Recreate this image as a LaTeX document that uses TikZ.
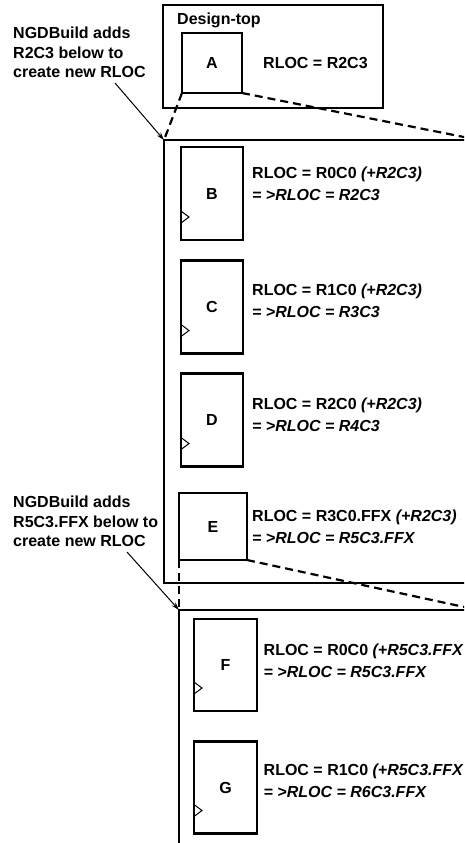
\documentclass[tikz,border=0pt]{standalone}
\usepackage{fontspec}
\setmainfont{Liberation Sans}
\usetikzlibrary{arrows.meta, calc}
\newcommand{\lblfont}{\fontsize{16}{21.5}\selectfont}
\newcommand{\notefont}{\fontsize{16}{19.5}\selectfont}
% clock mark on the left edge of a block
\newcommand{\clk}[1]{\draw[line width=1pt] ($(#1.south west)+(0,-29)$) -- ++(8,6) -- ++(-8,6);}

\begin{document}
\begin{tikzpicture}[x=1pt, y=-1pt,
        frame/.style={rectangle, draw, line width=2.2pt, outer sep=0pt, inner sep=0pt, anchor=north west},
        blk/.style={rectangle, draw, line width=2.2pt, outer sep=0pt, inner sep=0pt, minimum width=62pt, minimum height=93pt, font=\bfseries\lblfont},
        lbl/.style={anchor=north west, align=left, inner sep=0pt, font=\bfseries\lblfont},
        note/.style={anchor=north west, align=left, inner sep=0pt, font=\bfseries\notefont},
        link/.style={line width=2.2pt, dash pattern=on 8pt off 5pt},
        pointer/.style={line width=1pt, -{Stealth[length=8pt, width=5pt]}}]

        \clip (0,0) rectangle (464,843);

        % Design-top
        \node[frame, minimum width=220pt, minimum height=103pt] (dtop) at (163,5) {};
        \node[anchor=base west, inner sep=0pt, font=\bfseries\lblfont] (dtoplbl) at (177,24.5) {Design-top};
        \node[blk, minimum width=60pt, minimum height=60pt] (A) at (212,63) {A};
        \node[anchor=base west, inner sep=0pt, font=\bfseries\lblfont] (Albl) at (263,68.5) {RLOC = R2C3};

        % contents of A
        \node[frame, minimum width=315pt, minimum height=443pt] (insideA) at (164,140) {};
        \node[blk] (B) at (212,193.5) {B};
        \node[blk] (C) at (212,307) {C};
        \node[blk] (D) at (212,420) {D};
        \node[blk, minimum width=68pt, minimum height=67pt] (E) at (213,526.5) {E};
        \clk{B} \clk{C} \clk{D}
        \node[lbl] (Blbl) at (252,167) {RLOC = R0C0 \textit{(+R2C3)}\\\textit{= >RLOC = R2C3}};
        \node[lbl] (Clbl) at (252,284) {RLOC = R1C0 \textit{(+R2C3)}\\\textit{= >RLOC = R3C3}};
        \node[lbl] (Dlbl) at (252,398) {RLOC = R2C0 \textit{(+R2C3)}\\\textit{= >RLOC = R4C3}};
        \node[lbl] (Elbl) at (252,510) {RLOC = R3C0.FFX \textit{(+R2C3)}\\\textit{= >RLOC = R5C3.FFX}};

        % contents of E
        \node[frame, minimum width=299pt, minimum height=300pt] (insideE) at (179,610) {};
        \node[blk, minimum width=63pt, minimum height=92pt] (F) at (225.5,665) {F};
        \node[blk, minimum width=63pt, minimum height=92pt] (G) at (225.5,787.5) {G};
        \clk{F} \clk{G}
        \node[lbl] (Flbl) at (263.5,644) {RLOC = R0C0 \textit{(+R5C3.FFX}\\\textit{= >RLOC = R5C3.FFX}};
        \node[lbl] (Glbl) at (263.5,764) {RLOC = R1C0 \textit{(+R5C3.FFX}\\\textit{= >RLOC = R6C3.FFX}};

        % expansion lines
        \draw[link] (A.south west) -- (insideA.north west);
        \draw[link] (A.south east) -- (insideA.north east);
        \draw[link] (E.south west) -- (insideE.north west);
        \draw[link] (E.south east) -- (insideE.north east);

        % notes
        \node[note] (noteA) at (13,27) {NGDBuild adds\\R2C3 below to\\create new RLOC};
        \node[note] (noteE) at (13,496) {NGDBuild adds\\R5C3.FFX below to\\create new RLOC};
        \coordinate (noteAtail) at (115,83);
        \coordinate (noteEtail) at (127,552);
        \draw[pointer] (noteAtail) -- (insideA.north west);
        \draw[pointer] (noteEtail) -- (insideE.north west);
    \end{tikzpicture}
\end{document}
